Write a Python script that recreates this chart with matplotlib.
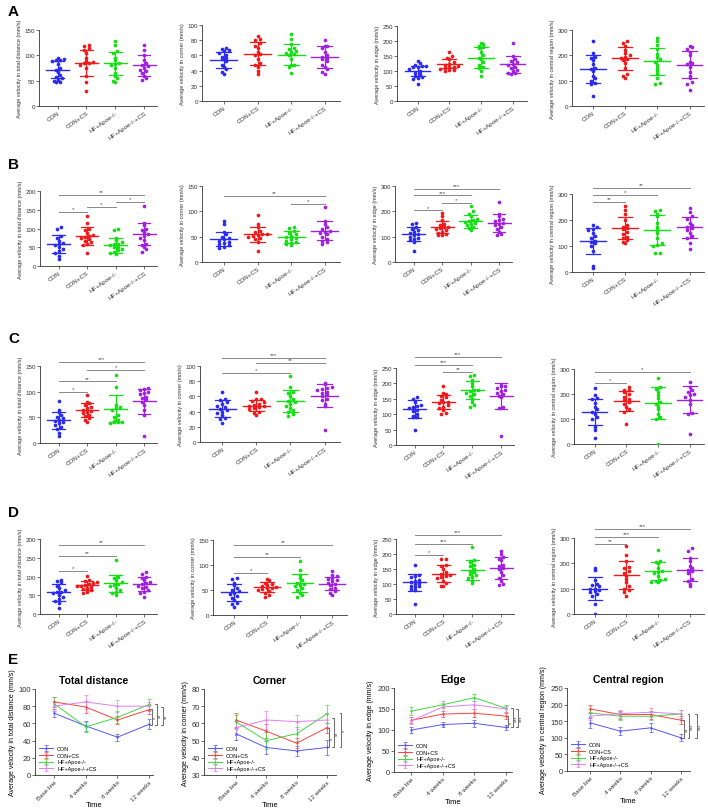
import numpy as np
import matplotlib
matplotlib.use("Agg")
import matplotlib.pyplot as plt

plt.rcParams['font.family'] = ['Liberation Sans', 'DejaVu Sans']

groups = ["CON", "CON+CS", "HF+Apoe-/-", "HF+Apoe-/-+CS"]
colors = ['#2a2af0', '#f01818', '#12e012', '#a020e0']
line_colors = ['#5555ff', '#ff4040', '#40d840', '#e080f0']
times = ["Base line", "4 weeks", "8 weeks", "12 weeks"]
ylab_total = "Average velocity in total distance (mm/s)"
ylab_corner = "Average velocity in corner (mm/s)"
ylab_edge = "Average velocity in edge (mm/s)"
ylab_central = "Average velocity in central region (mm/s)"

# ---- row A ----
A_total = [[95, 92, 91, 90, 88, 83, 75, 72, 68, 62, 57, 55, 52, 50, 48, 47],
           [120, 118, 115, 110, 105, 95, 88, 86, 85, 84, 80, 75, 60, 48, 30],
           [128, 120, 108, 105, 95, 90, 85, 82, 80, 75, 65, 60, 55, 50, 48],
           [120, 110, 100, 90, 85, 80, 78, 75, 72, 70, 65, 60, 55, 52]]
A_total_mean = [72, 85, 84, 80]
A_total_sd = [17, 25, 23, 20]
A_corner = [[70, 68, 67, 66, 63, 60, 58, 56, 55, 52, 48, 45, 42, 38, 36],
            [86, 82, 80, 76, 73, 70, 65, 62, 60, 55, 50, 48, 45, 40, 36],
            [88, 82, 75, 70, 68, 66, 65, 63, 62, 60, 55, 48, 47, 45, 37],
            [80, 73, 72, 70, 65, 60, 58, 57, 55, 52, 48, 45, 42, 38, 36]]
A_corner_mean = [54, 62, 61, 58]
A_corner_sd = [10, 15, 14, 14]
A_edge = [[133, 128, 120, 118, 117, 115, 112, 108, 100, 95, 90, 82, 80, 78, 75, 58],
          [162, 150, 145, 140, 130, 125, 120, 118, 115, 112, 110, 108, 105, 103, 100],
          [195, 190, 185, 180, 178, 165, 155, 145, 140, 130, 120, 115, 110, 100, 82],
          [193, 150, 140, 135, 130, 125, 120, 115, 110, 105, 100, 95, 92, 90]]
A_edge_mean = [100, 125, 145, 122]
A_edge_sd = [18, 15, 35, 28]
A_central = [[255, 210, 195, 190, 180, 165, 150, 145, 140, 120, 110, 100, 92, 88, 40],
             [258, 250, 235, 220, 210, 200, 195, 190, 185, 180, 170, 150, 125, 120, 110],
             [270, 258, 240, 225, 205, 195, 185, 175, 160, 150, 140, 125, 110, 90, 85],
             [235, 232, 225, 215, 200, 175, 170, 165, 155, 135, 120, 110, 95, 85, 65]]
A_central_mean = [145, 188, 177, 163]
A_central_sd = [55, 45, 53, 53]

# ---- row B ----
B_total = [[105, 100, 80, 75, 68, 62, 58, 55, 50, 45, 40, 35, 28, 20],
           [133, 115, 100, 95, 88, 82, 80, 78, 75, 72, 68, 65, 60, 55, 35],
           [100, 95, 75, 70, 65, 60, 58, 55, 52, 50, 45, 42, 38, 35, 32],
           [160, 115, 110, 100, 95, 90, 85, 80, 75, 70, 60, 55, 50, 45, 38]]
B_total_mean = [58, 80, 55, 85]
B_total_sd = [24, 23, 20, 30]
B_total_sig = [(0, 3, 189, '**'), (2, 3, 172, '*'), (1, 2, 158, '*'), (0, 1, 145, '*')]
B_corner = [[80, 75, 60, 55, 50, 48, 45, 42, 40, 38, 35, 33, 30, 28],
            [92, 75, 70, 62, 60, 56, 55, 54, 52, 50, 48, 45, 40, 22],
            [70, 68, 62, 58, 55, 52, 50, 48, 45, 42, 40, 38, 35, 33],
            [108, 80, 75, 70, 65, 62, 60, 58, 55, 50, 45, 42, 40, 35]]
B_corner_mean = [46, 55, 50, 62]
B_corner_sd = [14, 15, 12, 18]
B_corner_sig = [(0, 3, 130, '**'), (2, 3, 114, '*')]
B_edge = [[155, 150, 140, 130, 125, 120, 115, 110, 105, 100, 95, 90, 85, 80, 42],
          [195, 180, 165, 150, 145, 140, 138, 135, 130, 125, 120, 115, 110, 108, 105],
          [220, 200, 190, 180, 170, 165, 160, 158, 155, 150, 145, 140, 135, 125],
          [238, 190, 180, 170, 165, 160, 155, 150, 145, 140, 130, 120, 110, 105]]
B_edge_mean = [112, 138, 160, 155]
B_edge_sd = [28, 25, 25, 35]
B_edge_sig = [(0, 3, 287, '***'), (0, 2, 263, '***'), (1, 2, 234, '*'), (0, 1, 204, '*')]
B_central = [[180, 172, 165, 160, 150, 140, 130, 120, 115, 110, 100, 80, 25, 15],
             [255, 240, 225, 200, 180, 175, 170, 165, 155, 145, 135, 130, 125, 115, 110],
             [240, 235, 225, 215, 190, 175, 160, 150, 130, 110, 105, 100, 75, 72],
             [245, 230, 215, 205, 190, 180, 175, 170, 160, 150, 140, 130, 110, 90]]
B_central_mean = [120, 170, 163, 172]
B_central_sd = [50, 42, 58, 40]
B_central_sig = [(0, 3, 322, '**'), (0, 2, 296, '*'), (0, 1, 270, '**')]

# ---- row C ----
C_total = [[82, 65, 60, 55, 50, 48, 45, 42, 40, 38, 35, 32, 28, 20, 14],
           [93, 80, 78, 75, 70, 68, 65, 62, 60, 58, 55, 52, 48, 45, 40],
           [132, 110, 75, 70, 68, 65, 55, 50, 45, 42, 40, 40, 40, 38],
           [108, 105, 104, 100, 98, 95, 90, 88, 85, 80, 75, 65, 55, 14]]
C_total_mean = [44, 64, 67, 81]
C_total_sd = [17, 14, 27, 25]
C_total_sig = [(0, 3, 158, '***'), (1, 3, 142, '*'), (0, 2, 120, '**'), (0, 1, 100, '*')]
C_corner = [[66, 56, 55, 52, 50, 48, 46, 44, 42, 40, 38, 35, 32, 30, 25],
            [66, 57, 56, 54, 52, 50, 49, 48, 47, 46, 45, 43, 40, 38, 35],
            [87, 72, 66, 64, 60, 56, 54, 52, 50, 48, 45, 42, 40, 37, 34],
            [78, 76, 72, 71, 70, 68, 66, 64, 62, 60, 57, 55, 50, 47, 16]]
C_corner_mean = [44, 48, 54, 61]
C_corner_sd = [11, 7, 14, 15]
C_corner_sig = [(0, 3, 111, '***'), (1, 3, 104, '**'), (0, 2, 91, '*')]
C_edge = [[155, 150, 140, 130, 128, 125, 120, 115, 110, 100, 95, 92, 90, 48],
          [192, 170, 165, 160, 155, 145, 140, 138, 135, 130, 125, 120, 115, 105, 102],
          [228, 225, 210, 200, 190, 180, 178, 175, 170, 165, 160, 150, 140, 130, 122],
          [195, 192, 190, 185, 180, 175, 170, 165, 160, 155, 125, 120, 28]]
C_edge_mean = [117, 140, 178, 158]
C_edge_sd = [28, 22, 30, 42]
C_edge_sig = [(0, 3, 286, '***'), (0, 2, 259, '***'), (1, 2, 237, '**')]
C_central = [[225, 195, 185, 180, 165, 150, 140, 130, 120, 110, 100, 70, 55, 25],
             [230, 218, 215, 210, 200, 190, 180, 175, 170, 160, 150, 140, 130, 80],
             [265, 230, 220, 210, 195, 185, 170, 160, 150, 140, 120, 110, 100, 0],
             [250, 230, 215, 210, 200, 195, 190, 175, 160, 125, 120, 40]]
C_central_mean = [130, 172, 165, 178]
C_central_sd = [52, 40, 65, 55]
C_central_sig = [(0, 3, 287, '*'), (0, 1, 244, '*')]

# ---- row D ----
D_total = [[90, 88, 85, 75, 70, 65, 60, 58, 55, 50, 45, 40, 35, 30, 15],
           [102, 90, 88, 85, 82, 80, 78, 76, 75, 72, 70, 68, 65, 60, 55],
           [145, 100, 95, 90, 85, 80, 78, 75, 70, 65, 60, 55, 50],
           [112, 108, 100, 95, 90, 85, 82, 80, 75, 72, 70, 65, 60, 55, 45]]
D_total_mean = [58, 77, 82, 80]
D_total_sd = [22, 12, 23, 18]
D_total_sig = [(0, 3, 184, '**'), (0, 2, 156, '**'), (0, 1, 114, '*')]
D_corner = [[75, 72, 65, 60, 55, 50, 48, 45, 42, 38, 35, 30, 25, 22, 16],
            [73, 70, 65, 62, 60, 58, 56, 55, 54, 52, 50, 48, 45, 40, 37],
            [108, 90, 80, 75, 70, 65, 62, 60, 58, 55, 50, 45, 40, 36],
            [88, 80, 78, 75, 72, 70, 68, 65, 62, 60, 55, 52, 48, 45, 40]]
D_corner_mean = [46, 56, 64, 63]
D_corner_sd = [17, 10, 18, 13]
D_corner_sig = [(0, 3, 140, '**'), (0, 2, 117, '**'), (0, 1, 84, '*')]
D_edge = [[162, 130, 128, 125, 115, 110, 108, 105, 100, 95, 92, 90, 85, 80, 35],
          [185, 182, 165, 160, 150, 140, 135, 130, 128, 125, 120, 110, 105, 95, 93],
          [222, 180, 175, 165, 160, 150, 145, 140, 135, 130, 125, 120, 110, 105],
          [210, 200, 190, 185, 180, 165, 160, 155, 150, 140, 130, 120, 110, 100, 98]]
D_edge_mean = [106, 135, 146, 154]
D_edge_sd = [28, 28, 33, 36]
D_edge_sig = [(0, 3, 263, '***'), (0, 2, 233, '***'), (0, 1, 197, '*')]
D_central = [[180, 172, 135, 120, 115, 110, 100, 98, 95, 90, 85, 80, 70, 38, 0],
             [268, 232, 210, 185, 180, 170, 160, 150, 140, 125, 110, 100, 95, 85, 72],
             [252, 210, 205, 200, 180, 170, 165, 160, 150, 140, 135, 130, 128, 125],
             [260, 250, 220, 210, 190, 180, 175, 170, 160, 140, 130, 120, 110]]
D_central_mean = [100, 153, 170, 175]
D_central_sd = [45, 55, 35, 45]
D_central_sig = [(0, 3, 337, '***'), (0, 2, 304, '***'), (0, 1, 277, '**')]

# ---- row E (time course, mean and error per group) ----
E_total = [[72, 57, 44, 59], [85, 79, 64, 76], [83, 56, 67, 82], [80, 85, 80, 80]]
E_total_err = [[5, 6, 4, 6], [6, 7, 5, 5], [8, 6, 7, 6], [6, 8, 7, 5]]
E_total_br = [(3.09, 58, 77, '*'), (3.24, 58, 82, '**'), (3.42, 58, 79, '**')]
E_corner = [[54, 46, 44, 46], [62, 55.5, 48.5, 57.5], [61, 50, 54, 65.5], [57.5, 62, 61, 62]]
E_corner_err = [[3.5, 3.5, 3, 4.5], [4, 4, 3, 3], [4, 5, 4, 5], [4, 5, 4, 4]]
E_corner_br = [(3.07, 46, 57.5, '*'), (3.24, 46, 63, '**'), (3.48, 46, 66, '*')]
E_edge = [[100, 113, 116, 106], [123, 138, 140, 133], [145, 160, 177, 152], [122, 155, 160, 150]]
E_edge_err = [[6, 7, 8, 6], [7, 8, 9, 7], [9, 8, 9, 8], [8, 9, 10, 8]]
E_edge_br = [(3.07, 106, 133, '*'), (3.23, 106, 152, '***'), (3.4, 106, 150, '***')]
E_central = [[145, 120, 130, 100], [187, 170, 170, 153], [175, 165, 165, 172], [165, 173, 177, 172]]
E_central_err = [[14, 12, 14, 10], [12, 12, 12, 12], [12, 12, 12, 12], [12, 12, 14, 12]]
E_central_br = [(3.1, 100, 153, '**'), (3.28, 100, 172, '***'), (3.52, 100, 172, '***')]

W, H = 708, 812
fig = plt.figure(figsize=(W / 100, H / 100), dpi=100)


def rect(l, t, r, b):
    return [l / W, 1 - b / H, (r - l) / W, (b - t) / H]


def style(ax):
    for s in ['top', 'right']:
        ax.spines[s].set_visible(False)
    for s in ['left', 'bottom']:
        ax.spines[s].set_linewidth(0.6)
        ax.spines[s].set_color('#333333')
    ax.tick_params(length=2, width=0.5, labelsize=4.5, pad=1, colors='#333333')


def swarm(vals, ymax):
    # prism-like horizontal spreading of points that share a similar value
    vals = np.asarray(vals, float)
    order = np.argsort(vals)
    binh = ymax * 0.05
    off = np.zeros(len(vals))
    bins = {}
    for i in order:
        bins.setdefault(int(round(vals[i] / binh)), []).append(i)
    for idx in bins.values():
        n = len(idx)
        for k, i in enumerate(idx):
            off[i] = (k - (n - 1) / 2) * 0.14
    return off


def scatter_panel(px, data, means, sds, ymax, step, ylab, sig=()):
    ax = fig.add_axes(rect(*px))
    style(ax)
    for g in range(4):
        v = data[g]
        ax.scatter(g + swarm(v, ymax), v, s=7, color=colors[g], lw=0, zorder=3)
        m, sd = means[g], sds[g]
        ax.plot([g - 0.4, g + 0.4], [m, m], color=colors[g], lw=1.0, zorder=4)
        ax.plot([g, g], [m - sd, m + sd], color=colors[g], lw=0.9, zorder=4)
        for y in (m - sd, m + sd):
            ax.plot([g - 0.22, g + 0.22], [y, y], color=colors[g], lw=0.9, zorder=4)
    for a, b, y, lab in sig:
        ax.plot([a, b], [y, y], color='#888888', lw=0.7, clip_on=False)
        ax.text((a + b) / 2, y + ymax * 0.01, lab, ha='center', va='bottom',
                fontsize=4.5, color='#555555', clip_on=False)
    ax.set_xlim(-0.65, 3.45)
    ax.set_ylim(0, ymax)
    ax.set_yticks(np.arange(0, ymax + 1, step))
    ax.set_xticks(range(4))
    ax.set_xticklabels(groups, rotation=35, ha='right', rotation_mode='anchor')
    ax.set_ylabel(ylab, fontsize=4, labelpad=2, color='#333333')
    return ax


def line_panel(px, means, errs, ylo, yhi, step, ylab, title, xlim, br):
    ax = fig.add_axes(rect(*px))
    style(ax)
    x = np.arange(4)
    for g in range(4):
        ax.errorbar(x, means[g], yerr=errs[g], color=line_colors[g], lw=0.7,
                    elinewidth=0.5, capsize=1.2, capthick=0.5, marker='+', ms=2,
                    label=groups[g])
    for xb, y1, y2, lab in br:
        d = 0.06
        ax.plot([xb - d, xb, xb, xb - d], [y1, y1, y2, y2], color='#555555',
                lw=0.6, clip_on=False)
        ax.text(xb + 0.03, (y1 + y2) / 2, lab, rotation=90, ha='left', va='center',
                fontsize=4, color='#333333', clip_on=False)
    ax.set_xlim(*xlim)
    ax.set_ylim(ylo, yhi)
    ax.set_yticks(np.arange(ylo, yhi + 1, step))
    ax.set_xticks(x)
    ax.set_xticklabels(times, rotation=45, ha='right', rotation_mode='anchor', fontsize=4.5)
    ax.tick_params(axis='y', labelsize=5.5)
    ax.set_xlabel("Time", fontsize=5.5, labelpad=0)
    ax.set_ylabel(ylab, fontsize=5, labelpad=2)
    ax.set_title(title, fontsize=7.5, fontweight='bold', pad=4)
    ax.legend(loc='lower left', fontsize=4, frameon=False, handlelength=2.5,
              borderaxespad=0.3, labelspacing=0.3)
    return ax


scatter_panel((39, 31, 157, 107), A_total, A_total_mean, A_total_sd, 150, 50, ylab_total)
scatter_panel((202, 26, 340, 102), A_corner, A_corner_mean, A_corner_sd, 100, 20, ylab_corner)
scatter_panel((397, 27, 527, 102), A_edge, A_edge_mean, A_edge_sd, 250, 50, ylab_edge)
scatter_panel((572, 31, 704, 107), A_central, A_central_mean, A_central_sd, 300, 100, ylab_central)

scatter_panel((40, 192, 157, 267), B_total, B_total_mean, B_total_sd, 200, 50, ylab_total, B_total_sig)
scatter_panel((202, 187, 340, 263), B_corner, B_corner_mean, B_corner_sd, 150, 50, ylab_corner, B_corner_sig)
scatter_panel((395, 187, 512, 263), B_edge, B_edge_mean, B_edge_sd, 300, 100, ylab_edge, B_edge_sig)
scatter_panel((572, 195, 704, 273), B_central, B_central_mean, B_central_sd, 300, 100, ylab_central, B_central_sig)

scatter_panel((40, 367, 157, 444), C_total, C_total_mean, C_total_sd, 150, 50, ylab_total, C_total_sig)
scatter_panel((200, 367, 340, 443), C_corner, C_corner_mean, C_corner_sd, 100, 20, ylab_corner, C_corner_sig)
scatter_panel((396, 369, 514, 446), C_edge, C_edge_mean, C_edge_sd, 250, 50, ylab_edge, C_edge_sig)
scatter_panel((574, 370, 704, 445), C_central, C_central_mean, C_central_sd, 300, 100, ylab_central, C_central_sig)

scatter_panel((40, 540, 157, 615), D_total, D_total_mean, D_total_sd, 200, 50, ylab_total, D_total_sig)
scatter_panel((213, 541, 347, 616), D_corner, D_corner_mean, D_corner_sd, 150, 50, ylab_corner, D_corner_sig)
scatter_panel((396, 540, 514, 615), D_edge, D_edge_mean, D_edge_sd, 250, 50, ylab_edge, D_edge_sig)
scatter_panel((574, 539, 704, 615), D_central, D_central_mean, D_central_sd, 300, 100, ylab_central, D_central_sig)

line_panel((35, 690, 153, 776), E_total, E_total_err, 0, 100, 20, ylab_total,
           "Total distance", (-0.6, 3.12), E_total_br)
line_panel((204, 690, 336, 776), E_corner, E_corner_err, 30, 80, 10, ylab_corner,
           "Corner", (-1.05, 3.3), E_corner_br)
line_panel((394, 689, 512, 773), E_edge, E_edge_err, 0, 200, 50, ylab_edge,
           "Edge", (-0.55, 3.2), E_edge_br)
line_panel((567, 689, 690, 772), E_central, E_central_err, 0, 250, 50, ylab_central,
           "Central region", (-0.76, 3.3), E_central_br)

for lab, y in zip("ABCDE", [12, 165, 339, 513, 660]):
    fig.text(8 / W, 1 - y / H, lab, fontsize=11, fontweight='bold', va='center', ha='left')

fig.savefig("out.png", dpi=100)
